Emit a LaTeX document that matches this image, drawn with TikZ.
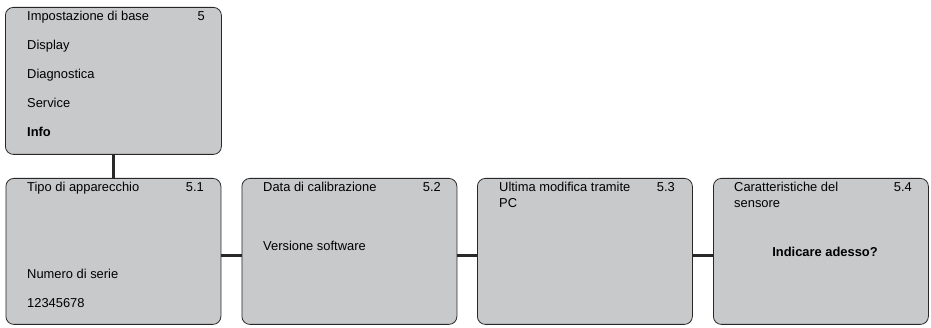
\documentclass[tikz,border=0pt]{standalone}
\usepackage{fontspec}
\setmainfont{Liberation Sans}
\definecolor{boxfill}{RGB}{200,201,203}
\definecolor{boxline}{RGB}{40,40,40}
\begin{document}
\begin{tikzpicture}[x=1pt,y=-1pt,
  menubox/.style={draw=boxline,fill=boxfill,line width=0.8pt,rounded corners=8pt,
    minimum width=215pt,minimum height=146pt,inner sep=0pt,anchor=north west},
  txt/.style={font=\fontsize{12.9}{14}\selectfont,inner sep=0pt,anchor=base west,text=black},
  num/.style={font=\fontsize{12.9}{14}\selectfont,inner sep=0pt,anchor=base east,text=black},
  conn/.style={draw=boxline,line width=2.4pt}]
\useasboundingbox (0,0) rectangle (931,328);
% boxes
\node[menubox,minimum width=216pt,minimum height=147pt] (top) at (5,7) {};
\node[menubox] (b1) at (5.5,178) {};
\node[menubox] (b2) at (241.5,178) {};
\node[menubox] (b3) at (477,178) {};
\node[menubox] (b4) at (713,178) {};
% connectors
\draw[conn] (top.south) -- (b1.north);
\draw[conn] ([yshift=-4pt]b1.east) -- ([yshift=-4pt]b2.west);
\draw[conn] ([yshift=-4pt]b2.east) -- ([yshift=-4pt]b3.west);
\draw[conn] ([yshift=-4pt]b3.east) -- ([yshift=-4pt]b4.west);
% top box texts
\node[txt] (t1) at (27,20.7) {Impostazione di base};
\node[num] (t1n) at (205,20.7) {5};
\node[txt] (t2) at (27,49.7) {Display};
\node[txt] (t3) at (27,78.7) {Diagnostica};
\node[txt] (t4) at (27,107.7) {Service};
\node[txt,font=\fontsize{12.9}{14}\selectfont\bfseries] (t5) at (27,136.7) {Info};
% box 1
\node[txt] (a1) at (27,191.5) {Tipo di apparecchio};
\node[num] (a1n) at (204,191.5) {5.1};
\node[txt] (a2) at (27,278.5) {Numero di serie};
\node[txt] (a3) at (27,307.5) {12345678};
% box 2
\node[txt] (c1) at (263,191.5) {Data di calibrazione};
\node[num] (c1n) at (441,191.5) {5.2};
\node[txt] (c2) at (263,250.5) {Versione software};
% box 3
\node[txt] (d1) at (499,191.5) {Ultima modifica tramite};
\node[txt] (d2) at (499,208) {PC};
\node[num] (d1n) at (675,191.5) {5.3};
% box 4
\node[txt] (e1) at (734,191.5) {Caratteristiche del};
\node[txt] (e2) at (734,208) {sensore};
\node[num] (e1n) at (912,191.5) {5.4};
\node[txt,anchor=base,font=\fontsize{12.9}{14}\selectfont\bfseries] (e3) at (825,256.7) {Indicare adesso?};
\end{tikzpicture}
\end{document}
